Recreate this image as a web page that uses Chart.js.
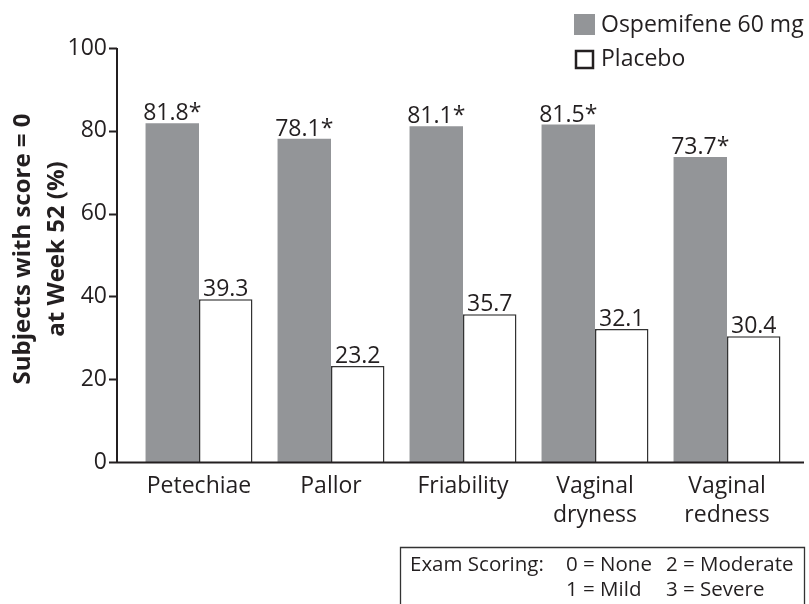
<!DOCTYPE html>
<html>
<head>
<meta charset="utf-8">
<script src="https://cdn.jsdelivr.net/npm/chart.js@4/dist/chart.umd.min.js"></script>
<style>
  html, body { margin: 0; padding: 0; background: #fff; }
  #wrap { width: 809px; height: 604px; }
</style>
</head>
<body>
<div id="wrap"><canvas id="barChart" width="809" height="604"></canvas></div>
<script>
// データ
const categories = ['Petechiae', 'Pallor', 'Friability', ['Vaginal', 'dryness'], ['Vaginal', 'redness']];
const ospemifene = [81.8, 78.1, 81.1, 81.5, 73.7];
const placebo = [39.3, 23.2, 35.7, 32.1, 30.4];
const ospLabels = ['81.8*', '78.1*', '81.1*', '81.5*', '73.7*'];
const plaLabels = ['39.3', '23.2', '35.7', '32.1', '30.4'];
const yTicks = [0, 20, 40, 60, 80, 100];
const yTitle = ['Subjects with score = 0', 'at Week 52 (%)'];
const scoringRows = [['Exam Scoring:', '0 = None', '2 = Moderate'], ['', '1 = Mild', '3 = Severe']];

const FONT = '"Open Sans", "Noto Sans", sans-serif';
const INK = '#231f20';
const GRAY = '#939598';

// 軸・ラベル・凡例・注記を描くプラグイン
const decor = {
    id: 'decor',
    afterDatasetsDraw(chart) {
        const ctx = chart.ctx;
        const area = chart.chartArea;
        const y = chart.scales.y;
        const axisX = area.left - 16;

        ctx.save();
        ctx.strokeStyle = INK;
        ctx.lineWidth = 2;
        ctx.beginPath();
        ctx.moveTo(axisX, y.getPixelForValue(100));
        ctx.lineTo(axisX, area.bottom + 1);
        ctx.moveTo(axisX - 1, area.bottom + 0.5);
        ctx.lineTo(area.right + 11, area.bottom + 0.5);
        yTicks.forEach(v => {
            const py = Math.round(y.getPixelForValue(v)) + 0.5;
            ctx.moveTo(axisX - 8, py);
            ctx.lineTo(axisX, py);
        });
        ctx.stroke();

        // 値ラベル
        ctx.fillStyle = INK;
        ctx.font = '23px ' + FONT;
        ctx.textAlign = 'center';
        ctx.textBaseline = 'alphabetic';
        [ospLabels, plaLabels].forEach((lbls, di) => {
            chart.getDatasetMeta(di).data.forEach((bar, i) => {
                ctx.fillText(lbls[i], bar.x, bar.y - 3);
            });
        });

        // Y軸タイトル
        ctx.save();
        ctx.translate(23, 249);
        ctx.rotate(-Math.PI / 2);
        ctx.font = 'bold 24px ' + FONT;
        ctx.textBaseline = 'middle';
        yTitle.forEach((t, i) => ctx.fillText(t, 0, i * 34));
        ctx.restore();

        // 凡例
        const ds = chart.data.datasets;
        ctx.textAlign = 'left';
        ctx.textBaseline = 'middle';
        ctx.font = '23px ' + FONT;
        ctx.fillStyle = ds[0].backgroundColor;
        ctx.fillRect(574, 14, 21, 21);
        ctx.fillStyle = INK;
        ctx.fillText(ds[0].label, 601, 25);
        ctx.lineWidth = 2.5;
        ctx.strokeStyle = INK;
        ctx.strokeRect(576, 51, 17, 17);
        ctx.fillText(ds[1].label, 601, 59);

        // Exam Scoring の枠
        ctx.lineWidth = 1.3;
        ctx.strokeStyle = '#333';
        ctx.beginPath();
        ctx.moveTo(400.5, 610);
        ctx.lineTo(400.5, 547.5);
        ctx.lineTo(804.5, 547.5);
        ctx.lineTo(804.5, 610);
        ctx.stroke();
        ctx.font = '20.5px ' + FONT;
        ctx.fillStyle = INK;
        const cols = [410, 566, 666];
        scoringRows.forEach((row, r) => {
            row.forEach((t, c) => ctx.fillText(t, cols[c], 565 + r * 25));
        });
        ctx.restore();
    }
};

const ctx = document.getElementById('barChart').getContext('2d');
window.myChart = new Chart(ctx, {
    type: 'bar',
    data: {
        labels: categories,
        datasets: [
            { label: 'Ospemifene 60 mg', data: ospemifene, backgroundColor: GRAY, borderWidth: 0 },
            { label: 'Placebo', data: placebo, backgroundColor: '#ffffff', borderColor: '#333333', borderWidth: 1.5, borderSkipped: 'bottom' }
        ]
    },
    options: {
        responsive: false,
        animation: false,
        layout: { padding: { top: 48, right: 16, left: 0, bottom: 0 } },
        categoryPercentage: 0.81,
        barPercentage: 1.0,
        scales: {
            x: {
                offset: true,
                grid: { display: false, drawTicks: false },
                border: { display: false },
                ticks: { color: INK, font: { family: FONT, size: 23, lineHeight: 1.26 }, padding: 10, maxRotation: 0, autoSkip: false },
                afterFit(s) { s.height = 142; }
            },
            y: {
                min: 0, max: 100,
                grid: { display: false, drawTicks: false },
                border: { display: false },
                ticks: { stepSize: 20, color: INK, font: { family: FONT, size: 23 }, padding: 26 },
                afterFit(s) { s.width = 133; }
            }
        },
        plugins: {
            legend: { display: false },
            tooltip: { enabled: false }
        }
    },
    plugins: [decor]
});
</script>
</body>
</html>
